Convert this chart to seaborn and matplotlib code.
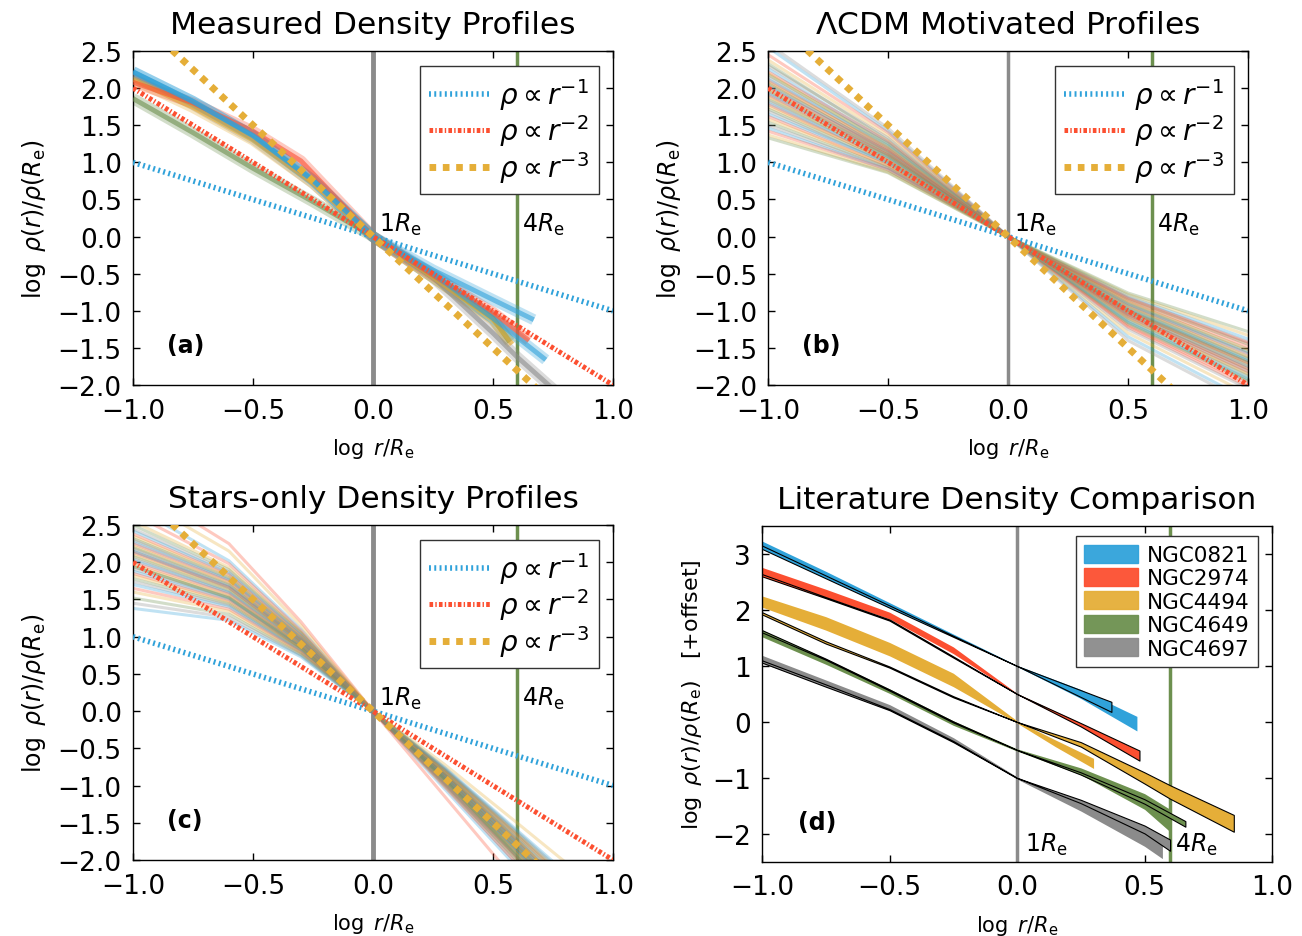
import numpy as np
import pandas as pd
import seaborn as sns
from matplotlib import pyplot as plt
from matplotlib.patches import Patch
from matplotlib.ticker import FuncFormatter

# ------------------------------------------------------------
# colours (fivethirtyeight-like palette used in the paper)
# ------------------------------------------------------------
BLUE, RED, YELLOW, GREEN, GRAY = "#30a2da", "#fc4f30", "#e5ae38", "#6d904f", "#8b8b8b"
cycle_colors = [BLUE, RED, YELLOW, GREEN, GRAY]

# reference power laws rho ~ r^-n, values at log r/Re = -1 and +1
powerlaw_labels = [r"$\rho\propto r^{-1}$", r"$\rho\propto r^{-2}$", r"$\rho\propto r^{-3}$"]
powerlaw_y_left = [1.0, 2.0, 3.0]
powerlaw_y_right = [-1.0, -2.0, -3.0]
powerlaw_colors = [BLUE, RED, YELLOW]

re_marks = [0.0, 0.6]          # log(1 Re), log(4 Re)

# ------------------------------------------------------------
# (a) measured profiles
# ------------------------------------------------------------
meas_names = ["NGC4649", "NGC4697", "NGC4494", "NGC2974", "NGC0821", "NGC0821b"]
meas_colors = [GREEN, GRAY, YELLOW, RED, BLUE, BLUE]
meas_x = [
    [-1.0, -0.75, -0.5, -0.25, 0.0, 0.25, 0.5, 0.57],
    [-1.0, -0.75, -0.5, -0.25, 0.0, 0.25, 0.5, 0.6, 0.76],
    [-1.0, -0.75, -0.5, -0.25, 0.0, 0.25, 0.5, 0.58],
    [-1.0, -0.75, -0.5, -0.3, 0.0, 0.25, 0.5, 0.65],
    [-1.0, -0.75, -0.5, -0.25, 0.0, 0.25, 0.5, 0.67],
    [-1.0, -0.75, -0.5, -0.25, 0.0, 0.25, 0.5, 0.72],
]
meas_y = [
    [1.86, 1.40, 0.92, 0.47, 0.0, -0.55, -1.10, -1.42],
    [2.17, 1.78, 1.32, 0.72, 0.0, -0.55, -1.30, -1.62, -2.08],
    [2.12, 1.74, 1.30, 0.72, 0.0, -0.55, -1.12, -1.45],
    [2.08, 1.80, 1.42, 1.02, 0.0, -0.52, -1.02, -1.40],
    [2.22, 1.82, 1.36, 0.76, 0.0, -0.45, -0.85, -1.12],
    [2.22, 1.82, 1.36, 0.76, 0.0, -0.50, -1.10, -1.66],
]

# ------------------------------------------------------------
# (b) LCDM motivated profiles, y at log r = -1, -0.5, (0), 0.5, 1
# ------------------------------------------------------------
cdm_x = [-1.0, -0.5, 0.0, 0.5, 1.0]
cdm_m10 = [2.55, 2.45, 2.38, 2.33, 2.30, 2.26, 2.22, 2.20, 2.18, 2.15, 2.12, 2.10, 2.08, 2.06,
           2.04, 2.02, 2.00, 1.98, 1.96, 1.94, 1.92, 1.90, 1.88, 1.85, 1.83, 1.80, 1.78, 1.75,
           1.72, 1.69, 1.65, 1.62, 1.58, 1.54, 1.50, 1.46, 1.42, 1.37, 1.33, 2.60]
cdm_m05 = [1.42, 1.40, 1.36, 1.30, 1.33, 1.26, 1.28, 1.22, 1.25, 1.20, 1.22, 1.18, 1.20, 1.15,
           1.17, 1.13, 1.15, 1.12, 1.10, 1.13, 1.08, 1.10, 1.06, 1.08, 1.04, 1.05, 1.02, 1.03,
           1.00, 0.98, 0.99, 0.95, 0.96, 0.93, 0.92, 0.90, 0.90, 0.87, 0.86, 1.46]
cdm_p05 = [-1.35, -1.22, -1.30, -1.18, -1.25, -1.15, -1.20, -1.12, -1.16, -1.10, -1.13, -1.08,
           -1.10, -1.05, -1.07, -1.03, -1.05, -1.02, -1.00, -1.03, -0.98, -1.00, -0.96, -0.99,
           -0.94, -0.96, -0.92, -0.94, -0.90, -0.88, -0.91, -0.86, -0.88, -0.84, -0.82, -0.80,
           -0.83, -0.78, -0.76, -1.40]
cdm_p10 = [-2.20, -2.02, -2.12, -1.95, -2.05, -1.92, -1.98, -1.88, -1.93, -1.85, -1.89, -1.82,
           -1.85, -1.78, -1.81, -1.75, -1.78, -1.73, -1.70, -1.74, -1.67, -1.70, -1.64, -1.68,
           -1.62, -1.65, -1.58, -1.62, -1.55, -1.52, -1.57, -1.48, -1.52, -1.45, -1.42, -1.38,
           -1.43, -1.33, -1.28, -2.25]

# ------------------------------------------------------------
# (c) stars-only profiles, y at log r = -1, -0.6, -0.3, (0), 0.3, 0.6, 1
# ------------------------------------------------------------
star_x = [-1.0, -0.6, -0.3, 0.0, 0.3, 0.6, 1.0]
star_m10 = [2.75, 2.65, 2.55, 2.50, 2.45, 2.42, 2.38, 2.35, 2.32, 2.30, 2.27, 2.25, 2.22, 2.20,
            2.18, 2.15, 2.13, 2.10, 2.08, 2.05, 2.03, 2.00, 1.97, 1.94, 1.91, 1.88, 1.85, 1.82,
            1.78, 1.74, 1.70, 1.65, 1.60, 1.52, 1.45, 1.38, 3.05, 2.90, 1.95, 2.15]
star_m06 = [2.02, 1.98, 1.93, 1.90, 1.87, 1.85, 1.83, 1.81, 1.79, 1.77, 1.76, 1.74, 1.72, 1.70,
            1.69, 1.67, 1.66, 1.64, 1.62, 1.60, 1.59, 1.57, 1.55, 1.53, 1.52, 1.50, 1.48, 1.46,
            1.44, 1.42, 1.40, 1.37, 1.34, 1.30, 1.26, 1.22, 2.25, 2.15, 1.52, 1.66]
star_m03 = [1.10, 1.08, 1.06, 1.05, 1.04, 1.02, 1.01, 1.00, 0.99, 0.98, 0.97, 0.96, 0.95, 0.95,
            0.94, 0.93, 0.92, 0.92, 0.91, 0.90, 0.89, 0.88, 0.88, 0.87, 0.86, 0.85, 0.84, 0.83,
            0.82, 0.81, 0.80, 0.79, 0.78, 0.76, 0.75, 0.73, 1.20, 1.15, 0.85, 0.95]
star_p03 = [-1.05, -1.02, -1.00, -0.98, -0.99, -0.96, -0.97, -0.95, -0.94, -0.95, -0.93, -0.92,
            -0.93, -0.91, -0.90, -0.91, -0.89, -0.88, -0.89, -0.87, -0.88, -0.86, -0.85, -0.86,
            -0.84, -0.85, -0.83, -0.82, -0.83, -0.81, -0.80, -0.79, -0.80, -0.78, -0.77, -0.76,
            -1.15, -0.72, -0.92, -1.00]
star_p06 = [-2.10, -2.05, -2.00, -1.98, -2.00, -1.95, -1.96, -1.93, -1.92, -1.93, -1.90, -1.88,
            -1.90, -1.87, -1.85, -1.86, -1.83, -1.82, -1.84, -1.80, -1.81, -1.78, -1.77, -1.79,
            -1.75, -1.76, -1.73, -1.71, -1.73, -1.70, -1.68, -1.66, -1.67, -1.64, -1.62, -1.60,
            -2.30, -1.50, -1.95, -2.05]
star_p10 = [-3.70, -3.60, -3.50, -3.45, -3.50, -3.40, -3.42, -3.36, -3.34, -3.36, -3.30, -3.27,
            -3.30, -3.25, -3.22, -3.24, -3.18, -3.16, -3.20, -3.12, -3.14, -3.08, -3.06, -3.10,
            -3.02, -3.04, -2.98, -2.94, -2.98, -2.92, -2.88, -2.84, -2.86, -2.80, -2.76, -2.72,
            -4.00, -2.55, -3.40, -3.60]

# ------------------------------------------------------------
# (d) literature comparison (values include the offsets +1, +0.5, 0, -0.5, -1)
# ------------------------------------------------------------
lit_names = ["NGC0821", "NGC2974", "NGC4494", "NGC4649", "NGC4697"]
lit_colors = [BLUE, RED, YELLOW, GREEN, GRAY]
# this work: coloured band (centre, half width)
band_x = [
    [-1.0, -0.75, -0.5, -0.25, 0.0, 0.25, 0.47],
    [-1.0, -0.75, -0.5, -0.25, 0.0, 0.25, 0.47],
    [-1.0, -0.75, -0.5, -0.25, 0.0, 0.15, 0.3],
    [-1.0, -0.75, -0.5, -0.25, 0.0, 0.25, 0.5, 0.6],
    [-1.0, -0.75, -0.5, -0.25, 0.0, 0.25, 0.5, 0.57],
]
band_c = [
    [3.18, 2.65, 2.10, 1.55, 1.0, 0.50, -0.03],
    [2.68, 2.30, 1.90, 1.28, 0.5, -0.05, -0.58],
    [2.15, 1.76, 1.30, 0.75, 0.0, -0.38, -0.74],
    [1.58, 1.08, 0.55, -0.02, -0.5, -0.88, -1.42, -1.76],
    [1.12, 0.70, 0.27, -0.32, -1.0, -1.52, -2.10, -2.30],
]
band_hw = [
    [0.05, 0.04, 0.03, 0.02, 0.01, 0.08, 0.13],
    [0.08, 0.07, 0.06, 0.06, 0.01, 0.03, 0.07],
    [0.10, 0.12, 0.12, 0.12, 0.02, 0.06, 0.09],
    [0.06, 0.05, 0.04, 0.04, 0.02, 0.06, 0.14, 0.20],
    [0.07, 0.05, 0.04, 0.04, 0.02, 0.07, 0.12, 0.14],
]
# literature: black outlined band
lit_x = [
    [-1.0, -0.5, 0.0, 0.37],
    [-1.0, -0.75, -0.5, -0.25, 0.0, 0.25, 0.48],
    [-1.0, -0.75, -0.5, -0.25, 0.0, 0.25, 0.5, 0.6, 0.85],
    [-1.0, -0.75, -0.5, -0.25, 0.0, 0.25, 0.5, 0.66],
    [-1.0, -0.75, -0.5, -0.25, 0.0, 0.25, 0.5, 0.6],
]
lit_c = [
    [3.12, 2.06, 1.0, 0.27],
    [2.62, 2.22, 1.82, 1.16, 0.5, -0.05, -0.60],
    [1.94, 1.42, 0.98, 0.45, 0.0, -0.40, -1.00, -1.25, -1.81],
    [1.62, 1.12, 0.57, 0.00, -0.5, -0.92, -1.42, -1.82],
    [1.08, 0.65, 0.22, -0.35, -1.0, -1.42, -1.92, -2.20],
]
lit_hw = [
    [0.03, 0.02, 0.0, 0.09],
    [0.02, 0.01, 0.01, 0.01, 0.0, 0.03, 0.09],
    [0.02, 0.02, 0.01, 0.01, 0.0, 0.04, 0.10, 0.12, 0.15],
    [0.02, 0.01, 0.01, 0.01, 0.0, 0.02, 0.04, 0.05],
    [0.02, 0.02, 0.01, 0.01, 0.0, 0.03, 0.07, 0.10],
]

# ============================================================
sns.set_theme(style="white")
plt.rcParams.update({
    "font.family": ["DejaVu Sans"],
    "mathtext.fontset": "dejavusans",
    "text.color": "black", "axes.labelcolor": "black", "axes.titlecolor": "black",
    "axes.edgecolor": "black",
    "axes.linewidth": 1.0,
    "xtick.direction": "in", "ytick.direction": "in",
    "xtick.top": True, "ytick.right": True,
    "xtick.bottom": True, "ytick.left": True,
    "xtick.major.size": 5, "ytick.major.size": 5,
    "xtick.major.width": 1, "ytick.major.width": 1,
    "xtick.color": "black", "ytick.color": "black",
    "xtick.labelsize": 19, "ytick.labelsize": 19,
    "xtick.major.pad": 9, "ytick.major.pad": 8,
    "lines.scale_dashes": False,
    "legend.fancybox": False,
    "legend.edgecolor": "#333333",
    "legend.framealpha": 1.0,
})

powerlaw_dashes = [(0, (1.4, 2.4)), (0, (2.6, 1.6, 1.0, 1.6)), (0, (4.8, 4.8))]
powerlaw_widths = [4.0, 3.6, 5.0]
minus_fmt = FuncFormatter(lambda v, p: ("%.1f" % v).replace("-", "\u2212"))
minus_int = FuncFormatter(lambda v, p: ("%d" % v).replace("-", "\u2212"))

fig = plt.figure(figsize=(13.02, 9.37), dpi=100)
ax_a = fig.add_axes([0.1021, 0.588, 0.3687, 0.3565])
ax_b = fig.add_axes([0.5899, 0.588, 0.3687, 0.3565])
ax_c = fig.add_axes([0.1021, 0.0811, 0.3687, 0.3575])
ax_d = fig.add_axes([0.5853, 0.079, 0.3917, 0.3586])


def profile_frame(x_nodes, columns):
    # every profile is normalised to 0 at log r = 0
    rows = []
    for i, vals in enumerate(zip(*columns)):
        ys = list(vals)
        ys.insert(x_nodes.index(0.0), 0.0)
        for x, y in zip(x_nodes, ys):
            rows.append(("p%02d" % i, x, y))
    return pd.DataFrame(rows, columns=["profile", "logr", "logrho"])


def decorate(ax, title, tag, gray_lw):
    ax.axvline(re_marks[0], color=GRAY, lw=gray_lw, zorder=1)
    ax.axvline(re_marks[1], color=GREEN, lw=2.5, zorder=1)
    handles = []
    for yl, yr, col, ls, lw in zip(powerlaw_y_left, powerlaw_y_right, powerlaw_colors,
                                   powerlaw_dashes, powerlaw_widths):
        ln, = ax.plot([-1.0, 1.0], [yl, yr], color=col, ls=ls, lw=lw, zorder=5,
                      dash_capstyle="butt")
        handles.append(ln)
    ax.set_xlim(-1, 1)
    ax.set_ylim(-2, 2.5)
    ax.set_xticks([-1.0, -0.5, 0.0, 0.5, 1.0])
    ax.set_yticks(np.arange(-2.0, 2.51, 0.5))
    ax.xaxis.set_major_formatter(minus_fmt)
    ax.yaxis.set_major_formatter(minus_fmt)
    ax.set_title(title, fontsize=22.5, pad=13)
    ax.set_xlabel(r"$\log\ r/R_{\rm e}$", fontsize=15, labelpad=9)
    ax.set_ylabel(r"$\log\ \rho(r)/\rho(R_{\rm e})$", fontsize=17, labelpad=7)
    ax.text(0.025, 0.08, r"$1R_{\rm e}$", fontsize=17, va="baseline")
    ax.text(0.62, 0.08, r"$4R_{\rm e}$", fontsize=17, va="baseline")
    ax.text(0.07, 0.12, tag, transform=ax.transAxes, fontsize=17, fontweight="bold",
            va="center")
    leg = ax.legend(handles, powerlaw_labels, loc="upper right", bbox_to_anchor=(0.97, 0.955),
                    fontsize=20, handlelength=2.2, handletextpad=0.3, labelspacing=0.02,
                    borderpad=0.35, borderaxespad=0.0)
    leg.set_zorder(10)
    leg.get_frame().set_linewidth(1.0)


# ---- (a) ----
rows = []
for name, xs, ys in zip(meas_names, meas_x, meas_y):
    for x, y in zip(xs, ys):
        rows.append((name, x, y))
df_a = pd.DataFrame(rows, columns=["galaxy", "logr", "logrho"])
pal_a = dict(zip(meas_names, meas_colors))
sns.lineplot(data=df_a, x="logr", y="logrho", hue="galaxy", palette=pal_a, units="galaxy",
             estimator=None, sort=False, lw=8, alpha=0.3, legend=False, ax=ax_a, zorder=2,
             solid_capstyle="butt")
sns.lineplot(data=df_a, x="logr", y="logrho", hue="galaxy", palette=pal_a, units="galaxy",
             estimator=None, sort=False, lw=3.5, alpha=0.6, legend=False, ax=ax_a, zorder=3,
             solid_capstyle="butt")
decorate(ax_a, "Measured Density Profiles", "(a)", 3.5)

# ---- (b) ----
df_b = profile_frame(cdm_x, [cdm_m10, cdm_m05, cdm_p05, cdm_p10])
pal_b = {p: cycle_colors[i % 5] for i, p in enumerate(df_b["profile"].unique())}
sns.lineplot(data=df_b, x="logr", y="logrho", hue="profile", palette=pal_b, units="profile",
             estimator=None, sort=False, lw=2.2, alpha=0.3, legend=False, ax=ax_b, zorder=2)
decorate(ax_b, r"$\Lambda$CDM Motivated Profiles", "(b)", 2.5)

# ---- (c) ----
df_c = profile_frame(star_x, [star_m10, star_m06, star_m03, star_p03, star_p06, star_p10])
pal_c = {p: cycle_colors[i % 5] for i, p in enumerate(df_c["profile"].unique())}
sns.lineplot(data=df_c, x="logr", y="logrho", hue="profile", palette=pal_c, units="profile",
             estimator=None, sort=False, lw=2.2, alpha=0.3, legend=False, ax=ax_c, zorder=2)
decorate(ax_c, "Stars-only Density Profiles", "(c)", 3.5)

# ---- (d) ----
ax = ax_d
ax.axvline(re_marks[0], color=GRAY, lw=2.5, zorder=1)
ax.axvline(re_marks[1], color=GREEN, lw=2.5, zorder=1)
for i, col in enumerate(lit_colors):
    bx, bc, bh = np.array(band_x[i]), np.array(band_c[i]), np.array(band_hw[i])
    ax.fill_between(bx, bc - bh, bc + bh, color=col, lw=0, zorder=2)
    lx, lc, lh = np.array(lit_x[i]), np.array(lit_c[i]), np.array(lit_hw[i])
    ax.fill_between(lx, lc - lh, lc + lh, facecolor=col, edgecolor="black", lw=0.8, zorder=3)
ax.set_xlim(-1, 1)
ax.set_ylim(-2.5, 3.5)
ax.set_xticks([-1.0, -0.5, 0.0, 0.5, 1.0])
ax.set_yticks([-2, -1, 0, 1, 2, 3])
ax.xaxis.set_major_formatter(minus_fmt)
ax.yaxis.set_major_formatter(minus_int)
ax.set_title("Literature Density Comparison", fontsize=22.5, pad=13)
ax.set_xlabel(r"$\log\ r/R_{\rm e}$", fontsize=15, labelpad=9)
ax.set_ylabel(r"$\log\ \rho(r)/\rho(R_{\rm e})$   [+offset]", fontsize=16, labelpad=6)
ax.text(0.03, -2.3, r"$1R_{\rm e}$", fontsize=17, va="baseline")
ax.text(0.62, -2.3, r"$4R_{\rm e}$", fontsize=17, va="baseline")
ax.text(0.07, 0.12, "(d)", transform=ax.transAxes, fontsize=17, fontweight="bold", va="center")
patches = [Patch(facecolor=c, edgecolor=c, alpha=0.95) for c in lit_colors]
leg = ax.legend(patches, lit_names, loc="upper right", bbox_to_anchor=(0.973, 0.97),
                fontsize=15.5, handlelength=2.5, handleheight=0.9, handletextpad=0.4,
                labelspacing=0.14, borderpad=0.4, borderaxespad=0.0)
leg.set_zorder(10)
leg.get_frame().set_linewidth(1.0)

fig.savefig("out.png", dpi=100)
